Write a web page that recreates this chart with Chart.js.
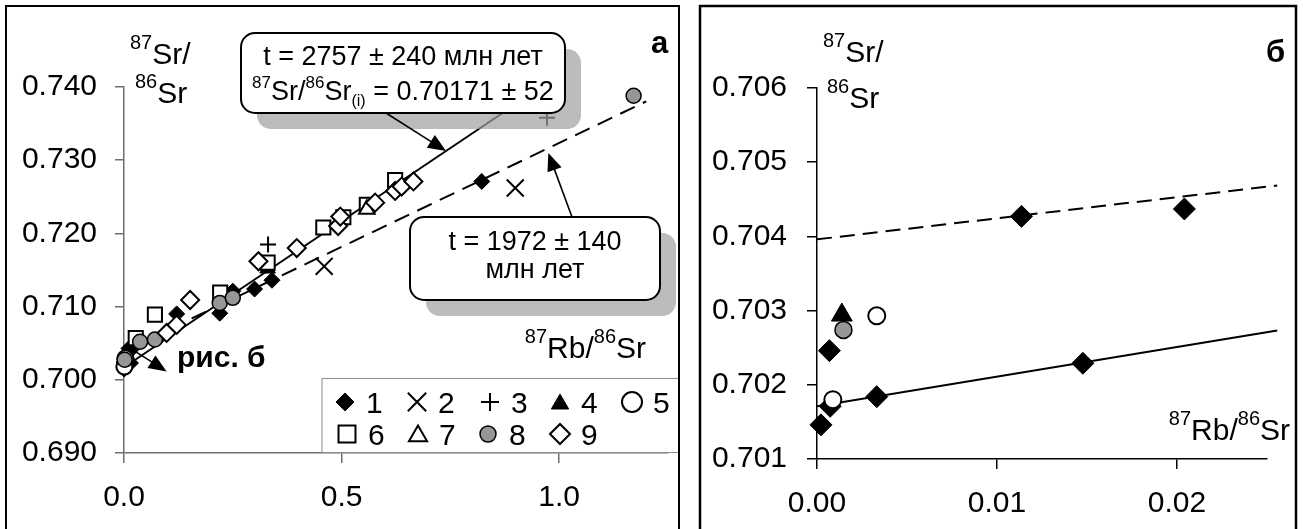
<!DOCTYPE html>
<html>
<head>
<meta charset="utf-8">
<script src="https://cdn.jsdelivr.net/npm/chart.js@4.4.1/dist/chart.umd.min.js"></script>
<style>
  html, body { margin: 0; padding: 0; background: #ffffff; }
  #wrap { position: relative; width: 1303px; height: 529px; overflow: hidden; }
  canvas { position: absolute; top: 0; }
  #chartA { left: 0; }
  #chartB { left: 690px; }
</style>
</head>
<body>
<div id="wrap">
  <canvas id="chartA" width="690" height="529"></canvas>
  <canvas id="chartB" width="613" height="529"></canvas>
</div>
<script>
// ---- Measured ratios: 87Rb/86Sr (x) and 87Sr/86Sr (y) for sample groups 1-9 ----
const g1Rb = [0.00022, 0.00073, 0.00069, 0.00332, 0.01136, 0.01477, 0.02041, 0.121, 0.220, 0.250, 0.300, 0.340, 0.822];
const g1Sr = [0.70146, 0.70171, 0.70246, 0.70184, 0.70427, 0.70229, 0.70437, 0.7090, 0.7091, 0.7121, 0.7124, 0.7136, 0.7271];
const g2Rb = [0.460, 0.899];
const g2Sr = [0.7155, 0.7262];
const g3Rb = [0.331, 0.972];
const g3Sr = [0.7185, 0.7358];
const g4Rb = [0.00138, 0.330];
const g4Sr = [0.70294, 0.7152];
const g5Rb = [0.00088, 0.00332];
const g5Sr = [0.70180, 0.70293];
const g6Rb = [0.027, 0.071, 0.221, 0.330, 0.458, 0.504, 0.558, 0.623];
const g6Sr = [0.7057, 0.7089, 0.7119, 0.7160, 0.7208, 0.7222, 0.7239, 0.7273];
const g7Rb = [0.558];
const g7Sr = [0.7233];
const g8Rb = [0.00147, 0.037, 0.071, 0.220, 0.250, 1.171];
const g8Sr = [0.70274, 0.7052, 0.7055, 0.7105, 0.7112, 0.7388];
const g9Rb = [0.098, 0.121, 0.152, 0.309, 0.397, 0.492, 0.497, 0.577, 0.623, 0.638, 0.665];
const g9Sr = [0.7064, 0.7075, 0.7109, 0.7162, 0.7180, 0.7210, 0.7223, 0.7242, 0.7258, 0.7264, 0.7271];

// ---- Isochrons: age (Ma) and initial 87Sr/86Sr ----
const LAMBDA_RB = 1.42e-11;           // 87Rb decay constant, 1/yr
const iso1AgeMa = 2757, iso1Err = 240, iso1Sr0 = 0.70171, iso1Sr0Err = 52;
const iso2AgeMa = 1972, iso2Err = 140, iso2Sr0 = 0.70396;
const iso1RbA = [0, 1.0];
const iso2RbA = [0, 1.2];
const isoRbB  = [0, 0.02557];

// ---- Tick values ----
const xTicksA = [0, 0.5, 1.0];
const yTicksA = [0.690, 0.700, 0.710, 0.720, 0.730, 0.740];
const xTicksB = [0, 0.01, 0.02];
const yTicksB = [0.701, 0.702, 0.703, 0.704, 0.705, 0.706];

const legendNames = ['1', '2', '3', '4', '5', '6', '7', '8', '9'];

const FONT = "'Liberation Sans', Arial, sans-serif";

// marker appearance for each group
const groups = [
  { rb: g1Rb, sr: g1Sr, style: 'rectRot',  fill: '#000000', lw: 1,   rA: 8,   rB: 11 },
  { rb: g2Rb, sr: g2Sr, style: 'crossRot', fill: '#000000', lw: 2,   rA: 12,  rB: 12 },
  { rb: g3Rb, sr: g3Sr, style: 'cross',    fill: '#000000', lw: 2,   rA: 8,   rB: 8 },
  { rb: g4Rb, sr: g4Sr, style: 'triangle', fill: '#000000', lw: 1,   rA: 9,   rB: 12 },
  { rb: g5Rb, sr: g5Sr, style: 'circle',   fill: '#ffffff', lw: 2,   rA: 8,   rB: 8.5 },
  { rb: g6Rb, sr: g6Sr, style: 'rect',     fill: '#ffffff', lw: 2,   rA: 10,  rB: 10 },
  { rb: g7Rb, sr: g7Sr, style: 'triangle', fill: '#ffffff', lw: 2,   rA: 9,   rB: 9 },
  { rb: g8Rb, sr: g8Sr, style: 'circle',   fill: '#969696', lw: 1.5, rA: 7.5, rB: 8.5 },
  { rb: g9Rb, sr: g9Sr, style: 'rectRot',  fill: '#ffffff', lw: 2,   rA: 9,   rB: 9 }
];

function isoLine(rb, ageMa, sr0) {
  const k = Math.exp(LAMBDA_RB * ageMa * 1e6) - 1;
  return rb.map(x => ({ x: x, y: sr0 + k * x }));
}

function pointSets(panel, clip) {
  return groups.map((g, i) => ({
    data: g.rb.map((x, j) => ({ x: x, y: g.sr[j] })),
    showLine: false,
    pointStyle: g.style,
    pointRadius: panel === 'A' ? g.rA : g.rB,
    pointBackgroundColor: g.fill,
    pointBorderColor: '#000000',
    pointBorderWidth: g.lw,
    order: 20 - i,
    clip: clip
  }));
}

function lineSet(points, dash, clip) {
  return {
    data: points, showLine: true, borderColor: '#000000', borderWidth: 2,
    borderDash: dash, pointRadius: 0, fill: false, order: 50, clip: clip
  };
}

function axisOpts(min, max, ticks, digits, color, tickLen, pad, fitKey, fitVal) {
  return {
    type: 'linear', min: min, max: max,
    afterBuildTicks: s => { s.ticks = ticks.map(v => ({ value: v })); },
    afterFit: s => { s[fitKey] = fitVal; },
    ticks: {
      color: '#000000', padding: pad, maxRotation: 0, autoSkip: false,
      font: { family: FONT, size: 30 },
      callback: v => Number(v).toFixed(digits)
    },
    grid: { display: true, drawOnChartArea: false, drawTicks: true, tickLength: tickLen, color: color, lineWidth: 1.5 },
    border: { display: true, color: color, width: 1.5 }
  };
}

// ---- drawing helpers ----
function rich(ctx, parts, x, y, align) {
  let w = 0;
  parts.forEach(p => {
    ctx.font = (p.b ? 'bold ' : '') + p.s + 'px ' + FONT;
    p.w = ctx.measureText(p.t).width; w += p.w;
  });
  let cx = align === 'center' ? x - w / 2 : (align === 'right' ? x - w : x);
  ctx.textAlign = 'left'; ctx.textBaseline = 'alphabetic'; ctx.fillStyle = '#000000';
  parts.forEach(p => {
    ctx.font = (p.b ? 'bold ' : '') + p.s + 'px ' + FONT;
    ctx.fillText(p.t, cx, y + (p.dy || 0)); cx += p.w;
  });
}

function roundRect(ctx, x, y, w, h, r) {
  ctx.beginPath();
  ctx.moveTo(x + r, y);
  ctx.arcTo(x + w, y, x + w, y + h, r);
  ctx.arcTo(x + w, y + h, x, y + h, r);
  ctx.arcTo(x, y + h, x, y, r);
  ctx.arcTo(x, y, x + w, y, r);
  ctx.closePath();
}

function callout(ctx, b) {
  ctx.save();
  roundRect(ctx, b.x + 16, b.y + 16, b.w, b.h, 14);
  ctx.fillStyle = 'rgba(160,160,160,0.7)'; ctx.fill();
  roundRect(ctx, b.x, b.y, b.w, b.h, 14);
  ctx.fillStyle = '#ffffff'; ctx.fill();
  ctx.lineWidth = 2; ctx.strokeStyle = '#000000'; ctx.stroke();
  ctx.restore();
}

function arrow(ctx, x0, y0, x1, y1) {
  const a = Math.atan2(y1 - y0, x1 - x0), L = 18, W = 7.5;
  ctx.save();
  ctx.strokeStyle = '#000000'; ctx.fillStyle = '#000000'; ctx.lineWidth = 1.6;
  ctx.beginPath(); ctx.moveTo(x0, y0);
  ctx.lineTo(x1 - Math.cos(a) * L * 0.8, y1 - Math.sin(a) * L * 0.8); ctx.stroke();
  ctx.beginPath(); ctx.moveTo(x1, y1);
  ctx.lineTo(x1 - L * Math.cos(a) + W * Math.sin(a), y1 - L * Math.sin(a) - W * Math.cos(a));
  ctx.lineTo(x1 - L * Math.cos(a) - W * Math.sin(a), y1 - L * Math.sin(a) + W * Math.cos(a));
  ctx.closePath(); ctx.fill();
  ctx.restore();
}

function marker(ctx, style, x, y, r, fill, lw) {
  ctx.save();
  ctx.fillStyle = fill; ctx.strokeStyle = '#000000'; ctx.lineWidth = lw;
  ctx.beginPath();
  if (style === 'circle') { ctx.arc(x, y, r, 0, Math.PI * 2); }
  else if (style === 'rect') { const s = r * Math.SQRT1_2; ctx.rect(x - s, y - s, 2 * s, 2 * s); }
  else if (style === 'rectRot') { ctx.moveTo(x - r, y); ctx.lineTo(x, y - r); ctx.lineTo(x + r, y); ctx.lineTo(x, y + r); ctx.closePath(); }
  else if (style === 'triangle') { ctx.moveTo(x, y - r); ctx.lineTo(x + 0.866 * r, y + 0.5 * r); ctx.lineTo(x - 0.866 * r, y + 0.5 * r); ctx.closePath(); }
  else if (style === 'cross') { ctx.moveTo(x - r, y); ctx.lineTo(x + r, y); ctx.moveTo(x, y - r); ctx.lineTo(x, y + r); }
  else if (style === 'crossRot') { const d = r * Math.SQRT1_2; ctx.moveTo(x - d, y - d); ctx.lineTo(x + d, y + d); ctx.moveTo(x + d, y - d); ctx.lineTo(x - d, y + d); }
  if (style !== 'cross' && style !== 'crossRot') ctx.fill();
  ctx.stroke();
  ctx.restore();
}

// ---- panel а decorations: callouts, arrows, legend, titles, frame ----
const decorA = {
  id: 'decorA',
  afterDatasetsDraw(chart) {
    const ctx = chart.ctx, sx = chart.scales.x, sy = chart.scales.y;
    const P = (x, y) => [sx.getPixelForValue(x), sy.getPixelForValue(y)];

    // callout for the older isochron
    const b1 = { x: 241, y: 33, w: 324, h: 80 };
    callout(ctx, b1);
    const cx1 = b1.x + b1.w / 2;
    rich(ctx, [{ t: 't = ' + iso1AgeMa + ' \u00b1 ' + iso1Err + ' млн лет', s: 27 }], cx1, 65, 'center');
    rich(ctx, [
      { t: '87', s: 17, dy: -12 }, { t: 'Sr/', s: 27 }, { t: '86', s: 17, dy: -12 }, { t: 'Sr', s: 27 },
      { t: '(i)', s: 16, dy: 6 }, { t: ' = ' + iso1Sr0.toFixed(5) + ' \u00b1 ' + iso1Sr0Err, s: 27 }
    ], cx1, 100, 'center');

    // callout for the younger isochron
    const b2 = { x: 410, y: 217, w: 250, h: 83 };
    callout(ctx, b2);
    const cx2 = b2.x + b2.w / 2;
    rich(ctx, [{ t: 't = ' + iso2AgeMa + ' \u00b1 ' + iso2Err, s: 27 }], cx2, 250, 'center');
    rich(ctx, [{ t: 'млн лет', s: 27 }], cx2, 278, 'center');

    // arrows to the isochron lines
    const t1 = P(0.740, iso1Sr0 + (Math.exp(LAMBDA_RB * iso1AgeMa * 1e6) - 1) * 0.740);
    arrow(ctx, 386, b1.y + b1.h, t1[0], t1[1]);
    const t2 = P(0.975, 0.7310);
    arrow(ctx, 572, b2.y, t2[0], t2[1]);

    // pointer to the enlarged view
    const a0 = P(0.009, 0.7045), a1 = P(0.098, 0.70115);
    arrow(ctx, a0[0], a0[1], a1[0], a1[1]);
    rich(ctx, [{ t: 'рис. б', s: 30, b: true }], 177, 367, 'left');
  },
  afterDraw(chart) {
    const ctx = chart.ctx;
    // legend
    ctx.save();
    ctx.fillStyle = '#ffffff'; ctx.strokeStyle = '#8c8c8c'; ctx.lineWidth = 1;
    ctx.fillRect(322, 378.5, 357, 74);
    ctx.strokeRect(322, 378.5, 357, 74);
    ctx.restore();
    const lx = [345, 417, 490, 560, 632, 347, 418, 488, 560];
    const ly = [402, 402, 402, 402, 402, 434, 434, 434, 434];
    const lr = [9, 13, 9, 10, 10, 12, 10.5, 8, 10];
    groups.forEach((g, i) => {
      marker(ctx, g.style, lx[i], ly[i] + (g.style === 'triangle' ? 2 : 0), lr[i], g.fill, g.lw);
      ctx.save();
      ctx.font = '30px ' + FONT; ctx.fillStyle = '#000000';
      ctx.textAlign = 'left'; ctx.textBaseline = 'alphabetic';
      ctx.fillText(legendNames[i], lx[i] + 21, ly[i] + 11);
      ctx.restore();
    });

    // axis titles
    rich(ctx, [{ t: '87', s: 20, dy: -15 }, { t: 'Sr/', s: 30 }], 130, 64, 'left');
    rich(ctx, [{ t: '86', s: 20, dy: -15 }, { t: 'Sr', s: 30 }], 135, 103, 'left');
    rich(ctx, [{ t: '87', s: 20, dy: -15 }, { t: 'Rb/', s: 30 }, { t: '86', s: 20, dy: -15 }, { t: 'Sr', s: 30 }], 646, 358, 'right');

    // panel letter
    rich(ctx, [{ t: 'а', s: 31, b: true }], 651, 53, 'left');

    // frame
    ctx.save();
    ctx.strokeStyle = '#000000'; ctx.lineWidth = 2;
    ctx.strokeRect(6, 6, 673, 600);
    ctx.restore();
  }
};

// ---- panel б decorations ----
const decorB = {
  id: 'decorB',
  afterDraw(chart) {
    const ctx = chart.ctx;
    rich(ctx, [{ t: '87', s: 20, dy: -15 }, { t: 'Sr/', s: 30 }], 133, 62, 'left');
    rich(ctx, [{ t: '86', s: 20, dy: -15 }, { t: 'Sr', s: 30 }], 137, 108, 'left');
    rich(ctx, [{ t: '87', s: 20, dy: -15 }, { t: 'Rb/', s: 30 }, { t: '86', s: 20, dy: -15 }, { t: 'Sr', s: 30 }], 600, 440, 'right');
    rich(ctx, [{ t: 'б', s: 31, b: true }], 576, 62, 'left');
    ctx.save();
    ctx.strokeStyle = '#000000'; ctx.lineWidth = 2.5;
    ctx.strokeRect(10, 6, 596, 600);
    ctx.restore();
  }
};

Chart.defaults.font.family = FONT;

new Chart(document.getElementById('chartA'), {
  type: 'scatter',
  data: {
    datasets: [
      lineSet(isoLine(iso1RbA, iso1AgeMa, iso1Sr0), [], false),
      lineSet(isoLine(iso2RbA, iso2AgeMa, iso2Sr0), [16, 9], false)
    ].concat(pointSets('A', false))
  },
  options: {
    responsive: false, animation: false, events: [],
    layout: { padding: { left: 0, top: 87, right: 22, bottom: 16 } },
    plugins: { legend: { display: false }, tooltip: { enabled: false } },
    scales: {
      x: axisOpts(0, 1.25, xTicksA, 1, '#6e6e6e', 10, 17, 'height', 60),
      y: axisOpts(0.690, 0.740, yTicksA, 3, '#6e6e6e', 9, 18, 'width', 124)
    }
  },
  plugins: [decorA]
});

new Chart(document.getElementById('chartB'), {
  type: 'scatter',
  data: {
    datasets: [
      lineSet(isoLine(isoRbB, iso1AgeMa, iso1Sr0), [], { left: 0, top: 0, right: 14, bottom: 0 }),
      lineSet(isoLine(isoRbB, iso2AgeMa, iso2Sr0), [15, 8], { left: 0, top: 0, right: 14, bottom: 0 })
    ].concat(pointSets('B', { left: 20, top: 20, right: 0, bottom: 20 }))
  },
  options: {
    responsive: false, animation: false, events: [],
    layout: { padding: { left: 0, top: 88, right: 36, bottom: 10 } },
    plugins: { legend: { display: false }, tooltip: { enabled: false } },
    scales: {
      x: axisOpts(0, 0.025, xTicksB, 2, '#000000', 10, 17, 'height', 60),
      y: axisOpts(0.701, 0.706, yTicksB, 3, '#000000', 10, 20, 'width', 127)
    }
  },
  plugins: [decorB]
});
</script>
</body>
</html>
